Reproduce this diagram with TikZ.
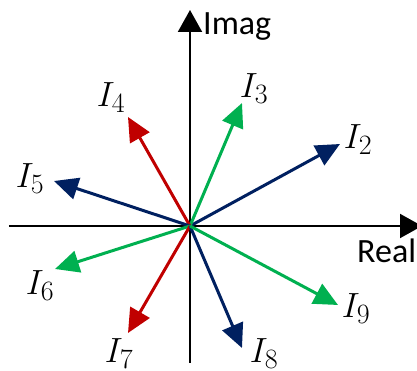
\RequirePackage{fix-cm}
\documentclass[tikz,border=0pt]{standalone}
\usepackage{fontspec}
\setmainfont{Carlito}
\usetikzlibrary{arrows.meta}
\definecolor{navy}{RGB}{0,32,96}
\definecolor{darkred}{RGB}{192,0,0}
\definecolor{brightgreen}{RGB}{0,176,80}
\DeclareMathSizes{35}{35}{28}{22}

\tikzset{
  axis/.style={line width=2pt, -{Triangle[length=22pt,width=24pt]}},
  phasor/.style={line width=3pt, -{Triangle[length=24pt,width=22pt]}},
  axislabel/.style={font=\fontsize{34}{40}\selectfont, inner sep=0pt},
  curlabel/.style={font=\fontsize{35}{40}\selectfont, inner sep=0pt}
}

\begin{document}
\begin{tikzpicture}[x=1pt,y=1pt]
  \useasboundingbox (-190,-145) rectangle (227,226);
  \clip (-190,-145) rectangle (227,226);
  \coordinate (O) at (0,0);
  % axes
  \coordinate (xl) at (-181,0);
  \coordinate (xr) at (232,0);
  \coordinate (yb) at (0,-137);
  \coordinate (yt) at (0,216);
  \draw[axis] (xl) -- (xr);
  \draw[axis] (yb) -- (yt);
  \node[axislabel, anchor=base west] (imag) at (13,191) {Imag};
  \node[axislabel, anchor=base west] (real) at (167,-37) {Real};
  % phasor tips
  \coordinate (t2) at (150,82);
  \coordinate (t3) at (52,123);
  \coordinate (t4) at (-62,109);
  \coordinate (t5) at (-136,45);
  \coordinate (t6) at (-135,-43);
  \coordinate (t7) at (-62,-107);
  \coordinate (t8) at (52,-122);
  \coordinate (t9) at (148,-79);
  \draw[phasor, navy] (O) -- (t2);
  \draw[phasor, brightgreen] (O) -- (t3);
  \draw[phasor, darkred] (O) -- (t4);
  \draw[phasor, navy] (O) -- (t5);
  \draw[phasor, brightgreen] (O) -- (t6);
  \draw[phasor, darkred] (O) -- (t7);
  \draw[phasor, navy] (O) -- (t8);
  \draw[phasor, brightgreen] (O) -- (t9);
  % labels
  \node[curlabel] (l2) at (168,86) {$I_2$};
  \node[curlabel] (l3) at (64,137) {$I_3$};
  \node[curlabel] (l4) at (-79,128) {$I_4$};
  \node[curlabel] (l5) at (-160,47) {$I_5$};
  \node[curlabel] (l6) at (-150,-60) {$I_6$};
  \node[curlabel] (l7) at (-71,-128) {$I_7$};
  \node[curlabel] (l8) at (74,-128) {$I_8$};
  \node[curlabel] (l9) at (166,-83) {$I_9$};
\end{tikzpicture}
\end{document}
